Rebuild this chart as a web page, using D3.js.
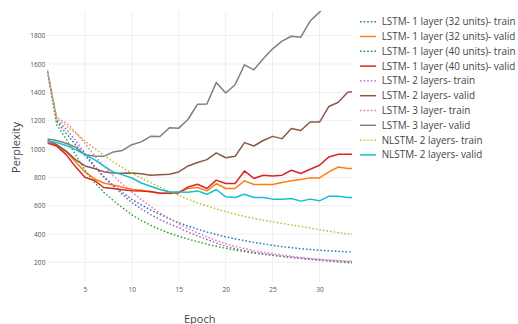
<!DOCTYPE html>
<html>
<head>
<meta charset="utf-8">
<script src="https://cdn.jsdelivr.net/npm/d3@7/dist/d3.min.js"></script>
<style>
  html, body { margin: 0; padding: 0; background: #fff; }
  svg { display: block; }
  text { font-family: "Open Sans", "Noto Sans", sans-serif; }
</style>
</head>
<body>
<svg id="chart" width="518" height="324"></svg>
<script>
// Epochs 1..34 (the last one runs just past the right edge of the plot)
const epochs = d3.range(1, 35);

const lstm1x32Train = [1545,1195,1110,1030,955,875,805,745,692,645,605,570,538,507,480,456,434,414,396,380,366,353,341,330,320,311,303,296,290,285,281,277,274,272];
const lstm1x32Valid = [1040,1020,980,910,838,790,760,745,730,715,709,697,690,686,697,721,728,704,756,721,721,775,749,749,749,763,775,785,796,796,838,873,862,862];
const lstm1x40Train = [1550,1170,1070,960,850,765,695,638,585,535,495,462,432,406,384,364,345,328,313,299,287,276,266,257,249,241,234,227,221,215,209,203,198,194];
const lstm1x40Valid = [1045,1020,960,875,800,778,728,721,712,705,704,700,688,688,690,732,751,721,780,756,756,845,792,815,810,815,850,827,857,885,944,963,963,963];
const lstm2Train = [1550,1205,1140,1060,970,882,802,737,677,622,577,537,502,472,445,412,386,361,336,313,297,283,271,260,251,243,236,229,223,218,213,209,206,203];
const lstm2Valid = [1060,1030,985,925,880,862,840,830,828,830,825,815,818,822,838,880,905,925,972,938,948,1045,1021,1060,1089,1073,1144,1130,1190,1190,1300,1330,1400,1410];
const lstm3Train = [1560,1220,1185,1120,1040,955,880,812,752,697,644,594,549,508,472,438,408,380,354,331,313,297,283,271,260,251,242,234,227,221,216,212,208,205];
const lstm3Valid = [1070,1060,1040,1012,960,950,948,978,990,1030,1050,1089,1088,1150,1147,1210,1316,1317,1470,1395,1453,1594,1559,1637,1707,1761,1796,1789,1903,1966,2040,2110,2170,2240];
const nlstm2Train = [1550,1215,1165,1110,1058,1005,955,910,868,830,795,762,730,700,672,645,620,598,577,557,540,524,510,497,486,475,464,453,442,430,420,410,400,395];
const nlstm2Valid = [1056,1045,1025,995,960,925,880,838,817,795,760,737,714,697,697,695,704,680,714,662,658,681,658,658,646,646,651,632,646,634,667,667,658,658];

const seriesNames = [
  "LSTM- 1 layer (32 units)- train",
  "LSTM- 1 layer (32 units)- valid",
  "LSTM- 1 layer (40 units)- train",
  "LSTM- 1 layer (40 units)- valid",
  "LSTM- 2 layers- train",
  "LSTM- 2 layers- valid",
  "LSTM- 3 layer- train",
  "LSTM- 3 layer- valid",
  "NLSTM- 2 layers- train",
  "NLSTM- 2 layers- valid"
];
const seriesValues = [lstm1x32Train, lstm1x32Valid, lstm1x40Train, lstm1x40Valid,
  lstm2Train, lstm2Valid, lstm3Train, lstm3Valid, nlstm2Train, nlstm2Valid];
const seriesColors = ["#1f77b4","#ff7f0e","#2ca02c","#d62728","#9467bd",
  "#8c564b","#e377c2","#7f7f7f","#bcbd22","#17becf"];
const seriesDotted = [true,false,true,false,true,false,true,false,true,false];

const xTicks = [5, 10, 15, 20, 25, 30];
const yTicks = [200, 400, 600, 800, 1000, 1200, 1400, 1600, 1800];

const plot = { left: 47.4, right: 352, top: 11, bottom: 282 };

const svg = d3.select("#chart");
const x = d3.scaleLinear().domain([1, 33.46]).range([plot.left, plot.right]);
const y = d3.scaleLinear().domain([61, 1974]).range([plot.bottom, plot.top]);

// grid
const grid = svg.append("g");
grid.selectAll("line.h").data(yTicks).join("line")
  .attr("x1", plot.left).attr("x2", plot.right)
  .attr("y1", d => y(d)).attr("y2", d => y(d))
  .attr("stroke", "#eeeeee").attr("stroke-width", 1);
grid.selectAll("line.v").data(xTicks).join("line")
  .attr("y1", plot.top).attr("y2", plot.bottom)
  .attr("x1", d => x(d)).attr("x2", d => x(d))
  .attr("stroke", "#eeeeee").attr("stroke-width", 1);

// axes (labels only, no domain lines)
const yAxis = svg.append("g")
  .attr("transform", `translate(${plot.left - 1},0)`)
  .call(d3.axisLeft(y).tickValues(yTicks).tickSize(0).tickPadding(1).tickFormat(d3.format("d")));
const xAxis = svg.append("g")
  .attr("transform", `translate(0,${plot.bottom})`)
  .call(d3.axisBottom(x).tickValues(xTicks).tickSize(0).tickPadding(5));
[yAxis, xAxis].forEach(a => {
  a.select(".domain").remove();
  a.selectAll("text").attr("fill", "#555").style("font-size", "6.6px")
    .style("font-family", "'Open Sans', sans-serif");
});

// lines
svg.append("clipPath").attr("id", "plotclip").append("rect")
  .attr("x", plot.left).attr("y", plot.top)
  .attr("width", plot.right - plot.left).attr("height", plot.bottom - plot.top);

const line = d3.line().x((d, i) => x(epochs[i])).y(d => y(d));
const lines = svg.append("g").attr("clip-path", "url(#plotclip)");
seriesValues.forEach((vals, k) => {
  lines.append("path")
    .attr("d", line(vals))
    .attr("fill", "none")
    .attr("stroke", seriesColors[k])
    .attr("stroke-width", seriesDotted[k] ? 1.4 : 1.5)
    .attr("stroke-dasharray", seriesDotted[k] ? "1.6,2" : null)
    .attr("stroke-linejoin", "round");
});

// axis titles
svg.append("text")
  .attr("x", (plot.left + plot.right) / 2).attr("y", 322.5)
  .attr("text-anchor", "middle").attr("fill", "#444")
  .style("font-size", "11px").text("Epoch");
svg.append("text")
  .attr("transform", "translate(19.5,147.5) rotate(-90)")
  .attr("text-anchor", "middle").attr("fill", "#444")
  .style("font-size", "11px").text("Perplexity");

// legend
const legend = svg.append("g").attr("transform", "translate(360,21.7)");
seriesNames.forEach((name, k) => {
  const g = legend.append("g").attr("transform", `translate(0,${k * 14.8})`);
  g.append("line").attr("x1", 0).attr("x2", 16).attr("y1", 0).attr("y2", 0)
    .attr("stroke", seriesColors[k])
    .attr("stroke-width", seriesDotted[k] ? 1.4 : 1.5)
    .attr("stroke-dasharray", seriesDotted[k] ? "1.6,2" : null);
  g.append("text").attr("x", 21.7).attr("y", 3.4)
    .attr("fill", "#444").style("font-size", "9.9px").text(name);
});
</script>
</body>
</html>
